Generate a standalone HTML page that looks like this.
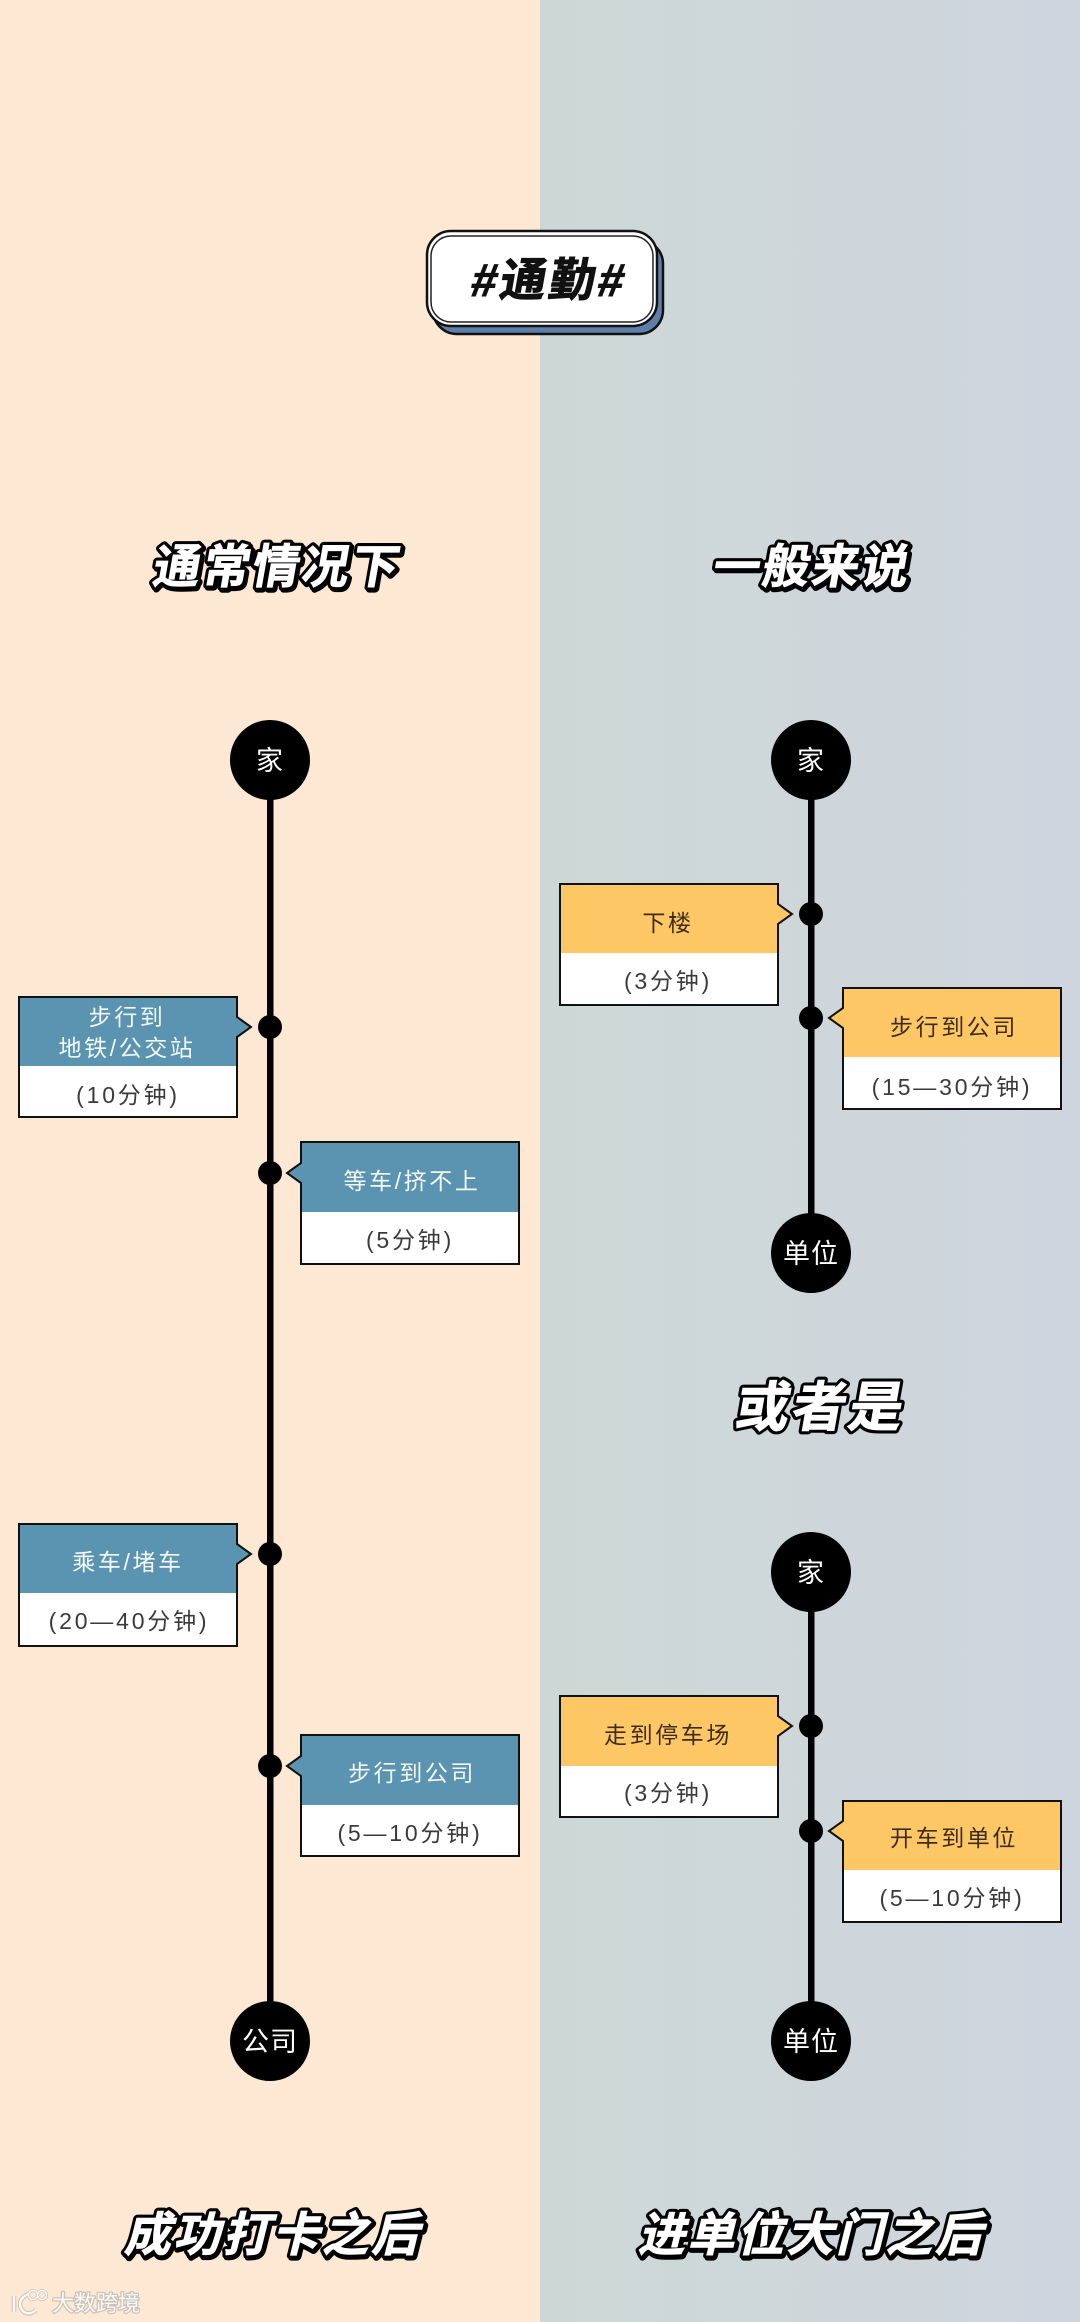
<!DOCTYPE html>
<html lang="zh">
<head>
<meta charset="utf-8">
<title>通勤</title>
<style>
html,body{margin:0;padding:0;width:1080px;height:2322px;overflow:hidden;background:#fde8d3}
svg{display:block}
text{font-family:"Liberation Sans","Noto Sans CJK SC",sans-serif;text-anchor:middle}
.t{font-size:23px;letter-spacing:2.6px}
.p{font-size:23px;letter-spacing:2.8px}
.w{fill:#f4f8fa}.y{fill:#3f2c17}.d{fill:#3a3a3a}
.n{font-size:27px;fill:#fff;letter-spacing:1px}
.h{font-weight:700;font-size:47px;fill:#fff;stroke:#000;stroke-width:7px;paint-order:stroke;stroke-linejoin:round;letter-spacing:2.5px}
.s{font-weight:700;font-size:47px;fill:#000;stroke:#000;stroke-width:7px;stroke-linejoin:round;letter-spacing:2.5px}
.f{font-weight:700;font-size:47px;fill:#fff;stroke:#fff;stroke-width:.8px;letter-spacing:2.5px}
.box{stroke:#111;stroke-width:2}
</style>
</head>
<body>
<svg width="1080" height="2322" viewBox="0 0 1080 2322" xmlns="http://www.w3.org/2000/svg">
<defs>
<linearGradient id="gr" x1="0" y1="0" x2="1" y2="0">
<stop offset="0" stop-color="#cdd8d6"/><stop offset="1" stop-color="#cfd5df"/>
</linearGradient>
</defs>
<rect x="0" y="0" width="540" height="2322" fill="#fde8d3"/>
<rect x="540" y="0" width="540" height="2322" fill="url(#gr)"/>

<!-- badge -->
<rect x="433" y="240" width="230" height="94" rx="24" fill="#5e7fa9" stroke="#111" stroke-width="2.5"/>
<rect x="427" y="231" width="230" height="95" rx="24" fill="#fff" stroke="#111" stroke-width="2.5"/>
<rect x="431" y="236" width="222" height="86" rx="20" fill="#fff" stroke="#222" stroke-width="1.5"/>
<text transform="translate(547 296) skewX(-10)" style="font-weight:700;font-size:46px;fill:#111;stroke:#111;stroke-width:1px;letter-spacing:3px">#通勤#</text>

<!-- headings -->
<g transform="translate(275 583) skewX(-10)"><text x="2" y="2" class="s">通常情况下</text><text class="h">通常情况下</text><text class="f">通常情况下</text></g>
<g transform="translate(810 583) skewX(-10)"><text x="2" y="2" class="s">一般来说</text><text class="h">一般来说</text><text class="f">一般来说</text></g>
<g transform="translate(818 1426) skewX(-10)"><text class="h" style="font-size:54px;stroke-width:7px">或者是</text><text class="f" style="font-size:54px">或者是</text></g>
<g transform="translate(272 2251) skewX(-14)"><text x="2" y="2" class="s">成功打卡之后</text><text class="h">成功打卡之后</text><text class="f">成功打卡之后</text></g>
<g transform="translate(811 2251) skewX(-14)"><text x="2" y="2" class="s">进单位大门之后</text><text class="h">进单位大门之后</text><text class="f">进单位大门之后</text></g>

<!-- lines -->
<rect x="267" y="760" width="6.5" height="1282" fill="#000"/>
<rect x="808" y="760" width="6.5" height="493" fill="#000"/>
<rect x="808" y="1572" width="6.5" height="470" fill="#000"/>

<!-- end nodes -->
<circle cx="270" cy="760" r="40" fill="#000"/><text x="270" y="770" class="n">家</text>
<circle cx="270" cy="2041" r="40" fill="#000"/><text x="270" y="2051" class="n">公司</text>
<circle cx="811" cy="760" r="40" fill="#000"/><text x="811" y="770" class="n">家</text>
<circle cx="811" cy="1253" r="40" fill="#000"/><text x="811" y="1263" class="n">单位</text>
<circle cx="811" cy="1572" r="40" fill="#000"/><text x="811" y="1582" class="n">家</text>
<circle cx="811" cy="2041" r="40" fill="#000"/><text x="811" y="2051" class="n">单位</text>

<!-- dots -->
<g fill="#000">
<circle cx="270" cy="1027" r="12"/><circle cx="270" cy="1173" r="12"/>
<circle cx="270" cy="1554" r="12"/><circle cx="270" cy="1766" r="12"/>
<circle cx="811" cy="914" r="12"/><circle cx="811" cy="1018" r="12"/>
<circle cx="811" cy="1726" r="12"/><circle cx="811" cy="1831" r="12"/>
</g>

<!-- left 1 -->
<rect x="19" y="1066" width="218" height="51" fill="#fff"/>
<path d="M19 997H237V1017L251 1027L237 1037V1066H19Z" fill="#5b94b0"/>
<path d="M19 997H237V1017L251 1027L237 1037V1117H19Z" fill="none" class="box"/>
<text x="127" y="1025" class="t w">步行到</text>
<text x="127" y="1056" class="t w">地铁/公交站</text>
<text x="128" y="1103" class="p d">(10分钟)</text>

<!-- left 2 -->
<rect x="301" y="1212" width="218" height="52" fill="#fff"/>
<path d="M519 1142H301V1163L287 1173L301 1183V1212H519Z" fill="#5b94b0"/>
<path d="M519 1142H301V1163L287 1173L301 1183V1264H519Z" fill="none" class="box"/>
<text x="412" y="1189" class="t w">等车/挤不上</text>
<text x="410" y="1248" class="p d">(5分钟)</text>

<!-- left 3 -->
<rect x="19" y="1593" width="218" height="53" fill="#fff"/>
<path d="M19 1524H237V1544L251 1554L237 1564V1593H19Z" fill="#5b94b0"/>
<path d="M19 1524H237V1544L251 1554L237 1564V1646H19Z" fill="none" class="box"/>
<text x="128" y="1570" class="t w">乘车/堵车</text>
<text x="129" y="1629" class="p d">(20—40分钟)</text>

<!-- left 4 -->
<rect x="301" y="1805" width="218" height="51" fill="#fff"/>
<path d="M519 1735H301V1756L287 1766L301 1776V1805H519Z" fill="#5b94b0"/>
<path d="M519 1735H301V1756L287 1766L301 1776V1856H519Z" fill="none" class="box"/>
<text x="412" y="1781" class="t w">步行到公司</text>
<text x="410" y="1841" class="p d">(5—10分钟)</text>

<!-- right 1 -->
<rect x="560" y="953" width="218" height="52" fill="#fff"/>
<path d="M560 884H778V904L792 914L778 924V953H560Z" fill="#fdc766"/>
<path d="M560 884H778V904L792 914L778 924V1005H560Z" fill="none" class="box"/>
<text x="668" y="931" class="t y">下楼</text>
<text x="668" y="989" class="p d">(3分钟)</text>

<!-- right 2 -->
<rect x="843" y="1057" width="218" height="52" fill="#fff"/>
<path d="M1061 988H843V1008L829 1018L843 1028V1057H1061Z" fill="#fdc766"/>
<path d="M1061 988H843V1008L829 1018L843 1028V1109H1061Z" fill="none" class="box"/>
<text x="954" y="1035" class="t y">步行到公司</text>
<text x="952" y="1095" class="p d">(15—30分钟)</text>

<!-- right 3 -->
<rect x="560" y="1766" width="218" height="51" fill="#fff"/>
<path d="M560 1696H778V1716L792 1726L778 1736V1766H560Z" fill="#fdc766"/>
<path d="M560 1696H778V1716L792 1726L778 1736V1817H560Z" fill="none" class="box"/>
<text x="668" y="1743" class="t y">走到停车场</text>
<text x="668" y="1801" class="p d">(3分钟)</text>

<!-- right 4 -->
<rect x="843" y="1870" width="218" height="52" fill="#fff"/>
<path d="M1061 1801H843V1821L829 1831L843 1841V1870H1061Z" fill="#fdc766"/>
<path d="M1061 1801H843V1821L829 1831L843 1841V1922H1061Z" fill="none" class="box"/>
<text x="954" y="1846" class="t y">开车到单位</text>
<text x="952" y="1906" class="p d">(5—10分钟)</text>

<!-- watermark -->
<g fill="none" stroke="#c9c2ba" stroke-width="4.5">
<path d="M14 2296V2312"/><path d="M28 2294C20 2298 18 2304 22 2310C26 2315 32 2314 36 2310"/>
<circle cx="33" cy="2295" r="4.5" stroke-width="3"/><circle cx="42" cy="2295" r="4.5" stroke-width="3"/>
</g>
<g fill="none" stroke="#fbf8f4" stroke-width="2.5">
<path d="M14 2296V2312"/><path d="M28 2294C20 2298 18 2304 22 2310C26 2315 32 2314 36 2310"/>
<circle cx="33" cy="2295" r="4.5" stroke-width="1.5"/><circle cx="42" cy="2295" r="4.5" stroke-width="1.5"/>
</g>
<text x="96" y="2311" style="font-size:22px;fill:#fbf8f4;stroke:#c9c2ba;stroke-width:2.5px;paint-order:stroke;stroke-linejoin:round">大数跨境</text>
</svg>
</body>
</html>
